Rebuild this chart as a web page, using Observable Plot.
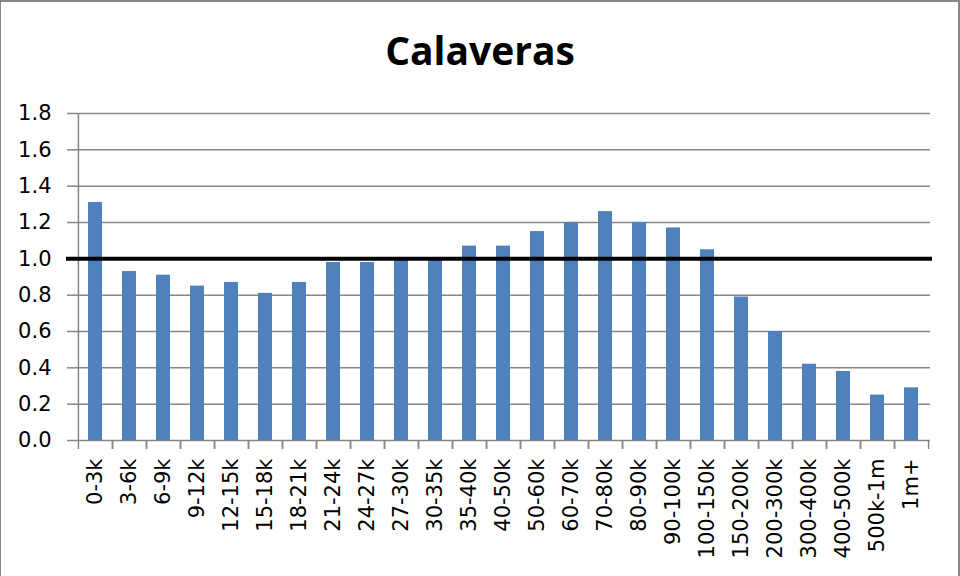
<!DOCTYPE html>
<html>
<head>
<meta charset="utf-8">
<script src="https://cdn.jsdelivr.net/npm/d3@7"></script>
<script src="https://cdn.jsdelivr.net/npm/@observablehq/plot@0.6"></script>
<style>
  html, body { margin: 0; padding: 0; background: #fff; }
  #wrap { position: relative; width: 960px; height: 576px; overflow: hidden; background: #fff; }
  #title { height: 85px; padding-top: 5px; line-height: 90px; text-align: center;
           font-family: "Open Sans", sans-serif; font-weight: bold; font-size: 39px; color: #000; }
  #border { position: absolute; left: 0; top: 0; width: 960px; height: 576px; box-sizing: border-box;
            border-top: 2px solid #868686; border-left: 1px solid #868686; border-right: 2px solid #868686;
            pointer-events: none; }
  svg { display: block; }
  #chart svg text { font-family: "DejaVu Sans", sans-serif !important; font-size: 21px !important; }
</style>
</head>
<body>
<div id="wrap">
  <div id="title">Calaveras</div>
  <div id="chart"></div>
  <div id="border"></div>
</div>
<script>
const categories = ["0-3k","3-6k","6-9k","9-12k","12-15k","15-18k","18-21k","21-24k","24-27k","27-30k",
  "30-35k","35-40k","40-50k","50-60k","60-70k","70-80k","80-90k","90-100k","100-150k","150-200k",
  "200-300k","300-400k","400-500k","500k-1m","1m+"];
const ratios = [1.31,0.93,0.91,0.85,0.87,0.81,0.87,0.98,0.98,1.00,
  1.00,1.07,1.07,1.15,1.20,1.26,1.20,1.17,1.05,0.79,
  0.60,0.42,0.38,0.25,0.29];
const yTicks = [0,0.2,0.4,0.6,0.8,1.0,1.2,1.4,1.6,1.8];
const reference = [1.0];

const data = categories.map((c, i) => ({category: c, ratio: ratios[i]}));

const W = 960, H = 486, mL = 76, mR = 30, mT = 23, mB = 136;
const step = (W - mL - mR) / categories.length;
const gray = "#868686";

const chart = Plot.plot({
  width: W, height: H,
  marginLeft: mL, marginRight: mR, marginTop: mT, marginBottom: mB,
  style: {fontFamily: "DejaVu Sans, sans-serif", fontSize: "21px", color: "#000", background: "#fff"},
  x: {domain: categories, paddingInner: 0.58, paddingOuter: 0.29, label: null},
  y: {domain: [0, 1.8], label: null},
  marks: [
    Plot.gridY(yTicks, {stroke: gray, strokeOpacity: 1, strokeWidth: 1.5}),
    Plot.axisY(yTicks, {tickSize: 9, tickPadding: 16, stroke: gray, strokeWidth: 1.5,
      tickFormat: d3.format(".1f"), fill: "#000", fontSize: 21, label: null}),
    Plot.ruleX([categories[0]], {x: d => d, dx: -step / 2, stroke: gray, strokeWidth: 1.5}),
    Plot.axisX({tickSize: 9, dx: -step / 2, tickFormat: () => "", stroke: gray, strokeWidth: 1.5, label: null}),
    Plot.axisX({tickSize: 9, dx: step / 2, tickFormat: () => "", stroke: gray, strokeWidth: 1.5, label: null}),
    Plot.axisX({tickSize: 0, tickPadding: 18, tickRotate: -90, fill: "#000", fontSize: 21, label: null}),
    Plot.barY(data, {x: "category", y: "ratio", fill: "#4F81BD"}),
    Plot.ruleY(reference, {stroke: "#000", strokeWidth: 4, insetLeft: -10, insetRight: -2})
  ]
});
document.getElementById("chart").appendChild(chart);
</script>
</body>
</html>
